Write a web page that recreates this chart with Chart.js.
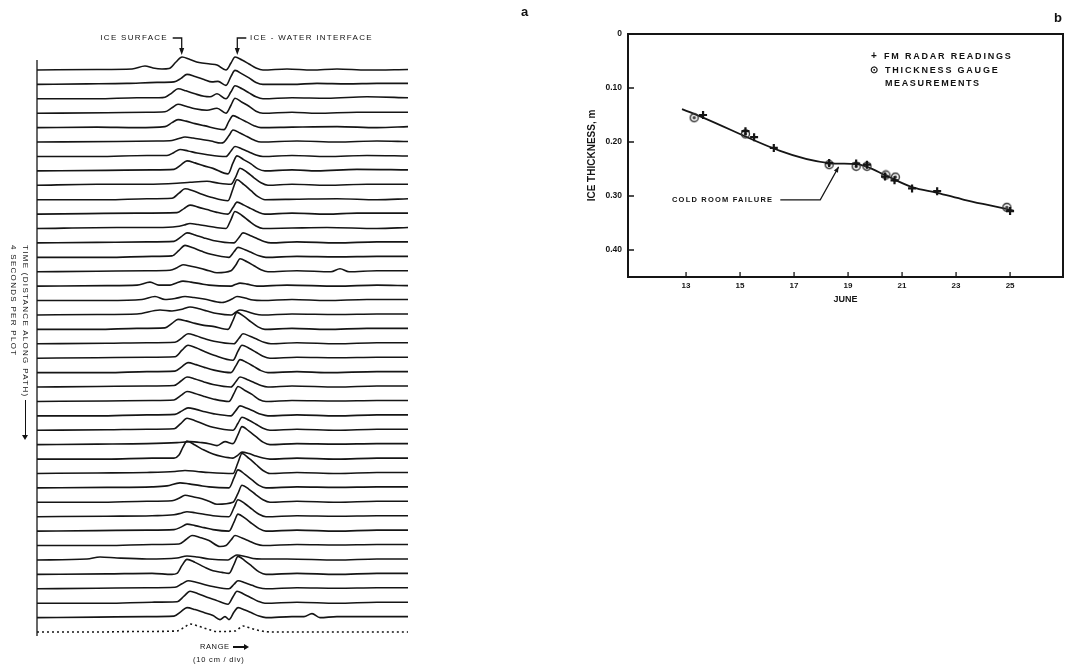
<!DOCTYPE html>
<html><head><meta charset="utf-8">
<script src="https://cdn.jsdelivr.net/npm/chart.js@4.4.1/dist/chart.umd.min.js"></script>
<style>
html,body{margin:0;padding:0;background:#fff;}
#wrap{position:relative;width:1074px;height:665px;overflow:hidden;font-family:"Liberation Sans",Arial,sans-serif;color:#111;background:#fff;}
canvas{position:absolute;}
.t{position:absolute;white-space:nowrap;line-height:12px;font-size:8px;letter-spacing:1.3px;}
.b{font-weight:bold;}
.arrow{display:inline-block;height:1.2px;background:#111;vertical-align:middle;position:relative;margin-left:3px;}
.arrow::after{content:"";position:absolute;right:-2px;top:-2.4px;border-left:5px solid #111;border-top:3px solid transparent;border-bottom:3px solid transparent;}
</style></head><body><div id="wrap">
<canvas id="ca" width="420" height="665" style="left:0;top:0"></canvas>
<canvas id="cb" width="514" height="330" style="left:560px;top:0"></canvas>

<div class="t" style="right:906px;top:32px;">ICE SURFACE</div>
<div class="t" style="left:250px;top:32px;">ICE - WATER INTERFACE</div>
<div class="t b" style="left:521px;top:5px;font-size:13px;line-height:14px;letter-spacing:0;">a</div>
<div class="t b" style="left:1054px;top:11px;font-size:13px;line-height:14px;letter-spacing:0;">b</div>
<div class="t" style="left:31px;top:245px;transform-origin:0 0;transform:rotate(90deg);">TIME (DISTANCE ALONG PATH)<span class="arrow" style="width:38px"></span><br>4 SECONDS PER PLOT</div>
<div class="t" style="left:200px;top:641px;font-size:7.5px;letter-spacing:0.6px;">RANGE<span class="arrow" style="width:14px"></span></div>
<div class="t" style="left:193px;top:654px;font-size:7.5px;letter-spacing:0.8px;">(10 cm / div)</div>

<div class="t b" style="left:871px;top:50px;font-size:10px;letter-spacing:0;">+</div>
<div class="t b" style="left:884px;top:50px;font-size:9px;letter-spacing:1.8px;">FM RADAR READINGS</div>
<div class="t b" style="left:870px;top:64px;font-size:10px;letter-spacing:0;">⊙</div>
<div class="t b" style="left:885px;top:64px;font-size:9px;letter-spacing:1.8px;">THICKNESS GAUGE</div>
<div class="t b" style="left:885px;top:77px;font-size:9px;letter-spacing:1.6px;">MEASUREMENTS</div>
<div class="t b" style="left:672px;top:194px;font-size:7.5px;letter-spacing:1.2px;">COLD ROOM FAILURE</div>
</div>
<script>
// ---------- Panel a : FM radar echo traces, [range, echo amplitude] ----------
const echoTraces = [
 [[0,0],[60,0.5],[95,1],[108,4],[116,2],[125,1],[132,1.5],[139,8],[145,13],[153,10.5],[162,7.5],[173,6],[180,5],[189,0],[194,7],[198,13],[205,10],[212,6],[219,2],[226,0],[250,1],[275,0],[300,1],[330,0],[371,0.5]],
 [[0,0],[50,0.5],[90,1],[120,2],[137,2.5],[144,6],[150,10],[158,8],[167,5],[175,2.5],[181,3],[189,-1],[194,8],[198,14],[205,10.5],[212,6.5],[219,2],[226,0],[255,0],[280,1],[310,0.5],[340,1],[371,1]],
 [[0,0],[60,0],[100,1],[122,1],[128,1.5],[135,6],[141,10],[149,8],[158,5],[167,2.5],[173,2],[180,5],[189,0],[194,7],[198,13],[205,10],[212,6],[219,2],[226,0],[255,1],[290,0.5],[330,2],[371,1]],
 [[0,0],[70,0.5],[110,1],[128,1.5],[135,5.5],[141,9],[149,7],[158,4.5],[170,3],[180,5],[189,0],[194,8],[198,15],[205,11],[212,7],[219,2],[226,0],[255,1],[280,0],[320,1],[371,1]],
 [[0,0],[60,0.5],[100,0],[128,1],[135,5],[141,8],[149,6.5],[158,4],[167,2],[187,-2],[192,6.5],[196,12],[203,9],[210,5.5],[217,2],[224,0],[255,0.5],[300,1],[340,0],[371,1]],
 [[0,0],[80,0.5],[120,1],[135,1.5],[142,3.5],[148,5],[156,4],[165,2.5],[174,1],[184,-1],[187,0],[192,6.5],[196,12],[203,9],[210,5.5],[217,2],[224,0],[260,1],[300,0],[340,1],[371,0.5]],
 [[0,0],[60,0],[110,1],[130,1],[137,4],[143,7],[151,5.5],[160,3.5],[169,2],[189,0],[194,5.5],[198,10],[205,7.5],[212,4.5],[219,1.5],[226,0],[255,1],[290,0],[330,1],[371,0.5]],
 [[0,0],[70,0.5],[115,1],[137,1.5],[144,6],[150,10],[158,8],[167,5],[176,2.5],[191,-3],[196,8],[200,15],[207,11],[214,7],[221,2],[228,0],[255,1],[280,0],[320,1.5],[371,1]],
 [[0,0],[60,1],[110,1],[140,2],[153,3],[170,4],[182,2],[194,1],[199,9],[203,17],[210,13],[217,7.5],[224,2.5],[231,0],[255,1],[290,0],[330,1],[371,1]],
 [[0,0],[70,0],[110,1],[135,1.5],[142,6.5],[148,11],[156,9],[165,5.5],[174,2.5],[191,-1],[196,11],[200,20],[207,15],[214,9],[221,3],[228,0],[260,0.5],[300,1],[340,0],[371,1]],
 [[0,0],[50,0.5],[100,1],[140,1.5],[147,5.5],[153,9],[161,7],[170,4.5],[179,2],[191,0],[196,6.5],[200,12],[207,9],[214,5.5],[221,2],[228,0],[255,1],[290,0],[320,1],[371,1]],
 [[0,0],[80,1],[120,1],[140,2],[147,3.5],[153,5],[161,4],[170,2.5],[179,1],[189,0],[194,9],[198,17],[205,13],[212,7.5],[219,2.5],[226,0],[255,0.5],[290,1],[340,0],[371,1]],
 [[0,0],[60,0.5],[110,1],[137,1.5],[144,6],[150,10],[158,8],[167,5],[176,2.5],[197,0],[202,5.5],[206,10],[213,7.5],[220,4.5],[227,1.5],[234,0],[260,1],[300,0],[340,1],[371,1]],
 [[0,0],[70,0],[115,1],[135,1.5],[142,7],[148,12],[156,9.5],[165,6],[174,3],[192,0],[197,5.5],[201,10],[208,7.5],[215,4.5],[222,1.5],[229,0],[260,1],[300,0.5],[340,1],[371,1]],
 [[0,0],[60,0.5],[110,1],[133,1.5],[140,4],[146,7],[154,5.5],[163,3.5],[172,1],[180,-1],[194,1],[199,7],[203,13],[210,10],[217,6],[224,2],[231,0],[260,1],[294,0],[303,3],[312,0],[340,1],[371,1]],
 [[0,0],[70,0.5],[100,1],[113,4],[122,1],[133,1],[140,3.5],[146,5],[154,4],[163,2.5],[172,1],[194,0],[199,2],[203,3],[210,2],[220,0],[250,1],[300,0],[340,1],[371,0.5]],
 [[0,0],[70,0],[105,1],[118,4],[128,1],[138,2],[148,4],[157,3],[167,1.5],[185,-2],[195,1.5],[200,4],[208,2.5],[216,0.5],[225,0],[255,1],[290,0],[330,1],[371,1]],
 [[0,0],[60,0.5],[100,1],[123,5],[135,4],[146,6],[153,8],[161,6.5],[170,4],[180,1.5],[194,0],[199,3],[203,5],[210,3.5],[218,1],[225,0],[255,1],[300,0.5],[340,1],[371,1]],
 [[0,0],[60,0],[100,1],[128,1.5],[135,6],[141,10],[149,8.5],[158,6],[167,4],[176,3],[191,0],[196,9],[200,17],[207,13],[214,7.5],[221,2.5],[228,0],[255,1],[290,0],[330,1],[371,1]],
 [[0,0],[70,0.5],[110,1],[138,1.5],[145,6],[151,10],[159,8],[168,5],[177,2.5],[197,0],[202,5.5],[206,10],[213,7.5],[220,4.5],[227,1.5],[234,0],[260,1],[300,0],[340,1],[371,1]],
 [[0,0],[60,0.5],[110,1],[138,1.5],[145,8],[151,13],[159,10.5],[168,6.5],[177,3],[196,-2],[201,7],[205,13],[212,10],[219,6],[226,2],[233,0],[260,1],[300,0.5],[340,1],[371,1]],
 [[0,0],[70,0],[110,1],[138,1.5],[145,6],[151,10],[159,8],[168,5],[177,2.5],[194,0],[199,7],[203,13],[210,10],[217,6],[224,2],[231,0],[260,1],[290,0],[340,1],[371,1]],
 [[0,0],[60,0.5],[110,1],[137,1.5],[144,6],[150,10],[158,8],[167,5],[176,2.5],[194,0],[199,5.5],[203,10],[210,7.5],[217,4.5],[224,1.5],[231,0],[255,1],[300,0],[340,1],[371,1]],
 [[0,0],[70,0.5],[115,1],[137,1.5],[144,6],[150,10],[158,8],[167,5],[176,2.5],[192,0],[197,8],[201,15],[208,11],[215,7],[222,2],[229,0],[255,1],[300,0.5],[340,1],[371,1]],
 [[0,0],[60,0],[110,1],[138,1.5],[145,5],[151,8],[159,6.5],[168,4],[177,2],[194,0],[199,5.5],[203,10],[210,7.5],[217,4.5],[224,1.5],[231,0],[260,1],[300,0],[340,1],[371,1]],
 [[0,0],[70,0.5],[110,1],[137,1.5],[144,7],[150,12],[158,9.5],[167,6],[176,3],[196,0],[201,7],[205,13],[212,10],[219,6],[226,2],[233,0],[260,1],[300,0],[340,1],[371,1]],
 [[0,0],[60,0.5],[110,1],[140,2],[153,3],[165,2],[172,1],[180,-1],[188,3],[196,1],[201,10],[205,18],[212,13.5],[219,8],[226,2.5],[233,0],[260,1],[300,0.5],[340,1],[371,1]],
 [[0,0],[70,0],[115,1],[137,1],[142,4],[146,12],[150,18],[158,14],[167,9],[176,5],[185,2.5],[196,1],[201,4],[205,7],[212,5.5],[219,3],[226,1],[233,0],[260,1],[300,0],[340,1],[371,1]],
 [[0,0],[60,0.5],[110,1],[138,2],[148,3],[160,2],[172,1],[196,0],[201,11],[205,20],[212,15],[219,9],[226,3],[233,0],[260,1],[300,0],[340,1],[371,1]],
 [[0,0],[70,0.5],[115,1],[130,2],[143,5],[152,4],[162,2.5],[172,1],[192,0],[197,10],[201,18],[208,13.5],[215,8],[222,2.5],[229,0],[260,1],[300,0.5],[340,1],[371,1]],
 [[0,0],[60,0],[110,1],[135,1.5],[142,4],[148,7],[156,5.5],[165,3.5],[172,1],[180,-2],[196,0],[201,9],[205,17],[212,13],[219,7.5],[226,2.5],[233,0],[260,1],[300,0],[340,1],[371,1]],
 [[0,0],[70,0.5],[115,1],[137,2],[144,3.5],[150,5],[158,4],[167,2.5],[176,1],[192,0],[197,9],[201,17],[208,13],[215,7.5],[222,2.5],[229,0],[260,1],[300,0.5],[340,1],[371,1]],
 [[0,0],[60,0.5],[110,1],[137,1.5],[144,4],[150,7],[158,5.5],[167,3.5],[176,1.5],[192,0],[197,9],[201,17],[208,13],[215,7.5],[222,2.5],[229,0],[260,1],[300,0],[340,1],[371,1]],
 [[0,0],[70,0],[115,1],[142,1.5],[149,6],[155,10],[163,8],[172,5],[183,-1],[189,0],[194,5.5],[198,10],[205,7.5],[212,4.5],[219,1.5],[226,0],[260,1],[300,0.5],[340,1],[371,1]],
 [[0,0],[50,1],[63,3],[80,2],[110,1],[140,2],[150,4],[160,3],[172,1],[191,0],[196,3],[200,5],[208,3.5],[216,1.5],[225,1],[250,1],[300,0],[340,1],[371,1]],
 [[0,0],[70,0.5],[115,1],[135,0],[140,1],[145,9],[150,15],[158,12],[167,7.5],[176,3.5],[185,2],[192,1],[197,10],[201,18],[208,13.5],[215,8],[222,2.5],[229,0],[260,1],[300,0],[340,1],[371,1]],
 [[0,0],[60,0.5],[110,1],[138,1.5],[145,5],[151,8],[159,6.5],[168,4],[177,2],[192,0],[197,4.5],[201,8],[208,6],[215,3.5],[222,1],[229,0],[260,1],[300,0.5],[340,1],[371,1]],
 [[0,0],[70,0],[115,1],[140,1.5],[147,7],[153,12],[161,9.5],[170,6],[179,3],[191,-1],[196,6.5],[200,12],[207,9],[214,5.5],[221,2],[228,0],[260,1],[300,0],[340,1],[371,1]],
 [[0,0],[60,0.5],[110,1],[137,1.5],[144,6],[150,10],[158,8],[167,5],[176,2],[183,-2],[188,1],[192,-2],[197,5.5],[201,10],[208,7.5],[215,4.5],[222,1.5],[229,0],[255,1],[267,1],[275,4],[283,0],[300,1],[340,1],[371,1]],
 [[0,0],[60,0],[100,0.5],[140,1],[147,4.5],[153,8],[161,6],[170,3],[180,0.5],[198,1],[202,3.5],[206,6],[213,4],[220,2],[228,0.5],[235,0],[260,0],[300,0],[371,0]]
];
const surfaceMarkRange = 144.7;    // "ICE SURFACE" pointer
const interfaceMarkRange = 200.3;  // "ICE - WATER INTERFACE" pointer

// ---------- Panel b : ice thickness vs June day ----------
const radarDays  = [13.63, 15.2, 15.52, 16.25, 18.3, 19.3, 19.7, 20.37, 20.72, 21.37, 22.3, 25.0];
const radarThick = [0.150, 0.180, 0.191, 0.211, 0.239, 0.240, 0.242, 0.264, 0.271, 0.286, 0.291, 0.328];
const gaugeDays  = [13.3, 15.2, 18.3, 19.3, 19.7, 20.4, 20.75, 24.88];
const gaugeThick = [0.155, 0.185, 0.242, 0.245, 0.245, 0.261, 0.265, 0.321];
const trendDays  = [12.85, 18.3, 19.3, 19.7, 20.4, 21.4, 22.3, 23.3, 24.3, 25.13];
const trendThick = [0.139, 0.239, 0.241, 0.246, 0.262, 0.284, 0.294, 0.307, 0.318, 0.327];
const dayTicks = [13, 15, 17, 19, 21, 23, 25];
const thicknessTicks = [0, 0.1, 0.2, 0.3, 0.4];
const coldRoomArrow = {from:[16.49, 0.307], elbow:[17.97, 0.307], tip:[18.65, 0.246]};

const INK = '#151515';
const TRACE_SPACING = 14.41;
const FONT = '"Liberation Sans", Arial, sans-serif';

// ----- Chart A -----
const nT = echoTraces.length;
const dsA = echoTraces.map((tr, i) => ({
  data: tr.map(([r, a]) => ({x: r, y: a - i * TRACE_SPACING})),
  borderColor: INK, borderWidth: 1.6, pointRadius: 0, cubicInterpolationMode: 'monotone',
  clip: false, borderDash: i === nT - 1 ? [2, 3] : []
}));

const panelAPlugin = {
  id: 'panelA',
  afterDraw(chart) {
    const {ctx, chartArea, scales} = chart;
    ctx.save();
    ctx.strokeStyle = INK; ctx.fillStyle = INK; ctx.lineWidth = 1.3;
    ctx.beginPath(); ctx.moveTo(chartArea.left, 60); ctx.lineTo(chartArea.left, 636); ctx.stroke();
    const drawPointer = (xv, dir) => {
      const px = scales.x.getPixelForValue(xv);
      ctx.beginPath(); ctx.moveTo(px + dir * 9, 38); ctx.lineTo(px, 38); ctx.lineTo(px, 52); ctx.stroke();
      ctx.beginPath(); ctx.moveTo(px - 2.5, 48); ctx.lineTo(px + 2.5, 48); ctx.lineTo(px, 55); ctx.closePath(); ctx.fill();
    };
    drawPointer(surfaceMarkRange, -1);
    drawPointer(interfaceMarkRange, 1);
    ctx.restore();
  }
};

new Chart(document.getElementById('ca'), {
  type: 'line',
  data: {datasets: dsA},
  options: {
    responsive: false, animation: false, events: [],
    layout: {padding: {left: 37, right: 12, top: 50, bottom: 33}},
    plugins: {legend: {display: false}, tooltip: {enabled: false}},
    scales: {
      x: {type: 'linear', min: 0, max: 371, display: false},
      y: {type: 'linear', min: -(nT - 1) * TRACE_SPACING, max: 20, display: false}
    }
  },
  plugins: [panelAPlugin]
});

// ----- Chart B -----
const gaugeMarker = document.createElement('canvas');
gaugeMarker.width = 11; gaugeMarker.height = 11;
(() => {
  const g = gaugeMarker.getContext('2d');
  g.strokeStyle = '#333'; g.lineWidth = 1.4;
  g.beginPath(); g.arc(5.5, 5.5, 4, 0, 2 * Math.PI); g.stroke();
  g.fillStyle = '#444'; g.beginPath(); g.arc(5.5, 5.5, 1.7, 0, 2 * Math.PI); g.fill();
})();

const panelBPlugin = {
  id: 'panelB',
  afterDraw(chart) {
    const {ctx, chartArea: a, scales: {x, y}} = chart;
    ctx.save();
    ctx.strokeStyle = INK; ctx.fillStyle = INK; ctx.lineWidth = 2;
    ctx.strokeRect(a.left, a.top, a.right - a.left, a.bottom - a.top);
    ctx.lineWidth = 1.3;
    ctx.beginPath();
    dayTicks.forEach(d => { const p = x.getPixelForValue(d); ctx.moveTo(p, a.bottom); ctx.lineTo(p, a.bottom - 5); });
    thicknessTicks.forEach(t => { const p = y.getPixelForValue(t); ctx.moveTo(a.left, p); ctx.lineTo(a.left + 6, p); });
    ctx.stroke();
    const P = ([d, t]) => [x.getPixelForValue(d), y.getPixelForValue(t)];
    const f = P(coldRoomArrow.from), e = P(coldRoomArrow.elbow), tp = P(coldRoomArrow.tip);
    ctx.lineWidth = 1.2;
    ctx.beginPath(); ctx.moveTo(f[0], f[1]); ctx.lineTo(e[0], e[1]); ctx.lineTo(tp[0], tp[1]); ctx.stroke();
    const ang = Math.atan2(tp[1] - e[1], tp[0] - e[0]);
    ctx.beginPath();
    ctx.moveTo(tp[0], tp[1]);
    ctx.lineTo(tp[0] - 6 * Math.cos(ang - 0.4), tp[1] - 6 * Math.sin(ang - 0.4));
    ctx.lineTo(tp[0] - 6 * Math.cos(ang + 0.4), tp[1] - 6 * Math.sin(ang + 0.4));
    ctx.closePath(); ctx.fill();
    ctx.restore();
  }
};

new Chart(document.getElementById('cb'), {
  type: 'line',
  data: {datasets: [
    {label: 'Trend', data: trendDays.map((d, i) => ({x: d, y: trendThick[i]})),
     borderColor: INK, borderWidth: 1.8, pointRadius: 0, cubicInterpolationMode: 'monotone', order: 3},
    {label: 'THICKNESS GAUGE MEASUREMENTS', data: gaugeDays.map((d, i) => ({x: d, y: gaugeThick[i]})),
     showLine: false, pointStyle: gaugeMarker, pointRadius: 5, order: 2},
    {label: 'FM RADAR READINGS', data: radarDays.map((d, i) => ({x: d, y: radarThick[i]})),
     showLine: false, pointStyle: 'cross', pointRadius: 4, borderWidth: 2.2, borderColor: INK, order: 1}
  ]},
  options: {
    responsive: false, animation: false, events: [],
    layout: {padding: {left: 0, right: 11, top: 34, bottom: 20}},
    plugins: {legend: {display: false}, tooltip: {enabled: false}},
    scales: {
      x: {type: 'linear', position: 'bottom', min: 10.85, max: 26.96,
        grid: {display: false, drawTicks: false}, border: {display: false},
        afterBuildTicks: s => { s.ticks = dayTicks.map(v => ({value: v})); },
        afterFit: s => { s.height = 33; },
        ticks: {autoSkip: false, maxRotation: 0, padding: 4, color: INK, font: {family: FONT, size: 8, weight: 'bold'}},
        title: {display: true, text: 'JUNE', color: INK, font: {family: FONT, size: 9, weight: 'bold'}, padding: {top: 0, bottom: 5}}
      },
      y: {type: 'linear', reverse: true, min: 0, max: 0.45,
        grid: {display: false, drawTicks: false}, border: {display: false},
        afterBuildTicks: s => { s.ticks = thicknessTicks.map(v => ({value: v})); },
        afterFit: s => { s.width = 68; },
        ticks: {autoSkip: false, padding: 6, color: INK, font: {family: FONT, size: 8.5, weight: 'bold'},
          callback: v => v === 0 ? '0' : v.toFixed(2)},
        title: {display: true, text: 'ICE THICKNESS, m', color: INK, font: {family: FONT, size: 10, weight: 'bold'}, padding: {top: 26, bottom: 0}}
      }
    }
  },
  plugins: [panelBPlugin]
});
</script>
</body></html>
